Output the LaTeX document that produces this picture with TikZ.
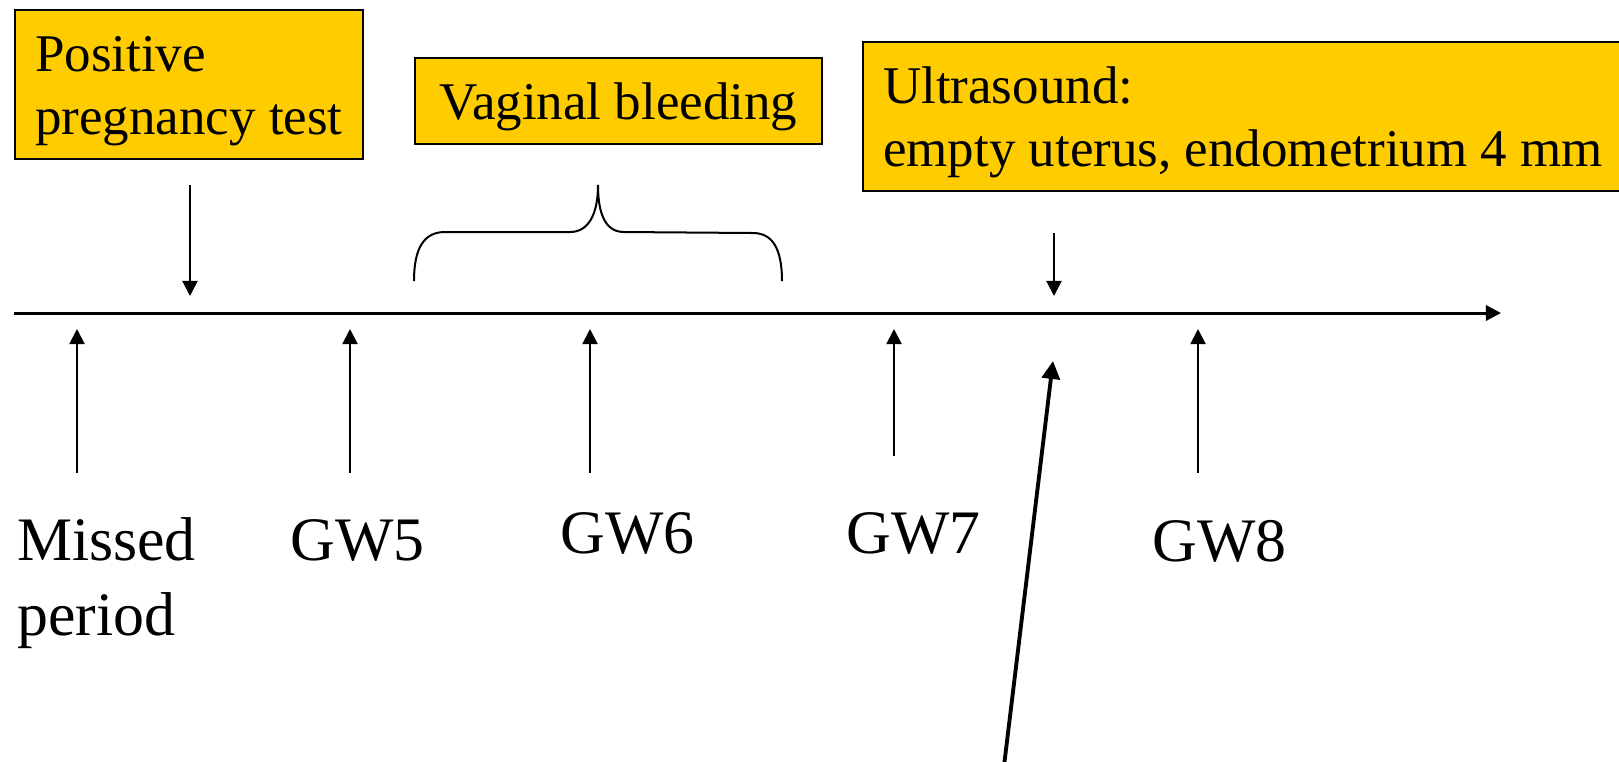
\documentclass[tikz,border=0pt]{standalone}
\usepackage{fontspec}
\setmainfont{Liberation Serif}
\usepackage{tikz}
\usetikzlibrary{arrows.meta, positioning, calc}
\definecolor{notegold}{HTML}{FFCC00}
\tikzset{
  % Yellow note boxes
  notebox/.style={
    rectangle, draw=black, fill=notegold, line width=0.6pt,
    anchor=north west, align=left, inner xsep=0.2cm, inner ysep=0pt,
    text height=#1, text depth=0.25cm,
    font=\fontsize{15.08}{17.92}\selectfont,
  },
  notebox/.default={1.24cm},
  % Week labels under the time line
  weeklabel/.style={
    anchor=base west, inner sep=0pt, align=left,
    font=\fontsize{17.6}{21.34}\selectfont,
  },
  % Arrows
  tickarrow/.style={-{Triangle[length=4.3pt, width=4.3pt]}, line width=0.57pt},
  axisarrow/.style={-{Triangle[length=4.3pt, width=4.3pt]}, line width=0.85pt},
  pointarrow/.style={-{Triangle[length=5.1pt, width=5.1pt]}, line width=1.1pt},
  bracepath/.style={line width=0.57pt},
}

\begin{document}
\begin{tikzpicture}
  \useasboundingbox (0,0) rectangle (16.19,-7.61);
  \clip (0,0) rectangle (16.19,-7.61);

  % Event boxes
  \node[notebox] (preg) at (0.14,-0.09) {Positive\\pregnancy test};
  \node[notebox=0.61cm, minimum width=4.07cm] (bleed) at (4.14,-0.57) {Vaginal bleeding};
  \node[notebox] (usound) at (8.62,-0.41) {Ultrasound:\\empty uterus, endometrium 4 mm};

  % Time line
  \coordinate (tstart) at (0.14,-3.13);
  \coordinate (tend) at (15.01,-3.13);
  \draw[axisarrow] (tstart) -- (tend);

  % Markers above the line
  \coordinate (pregtop) at (1.90,-1.85);
  \coordinate (pregtip) at (1.90,-2.96);
  \draw[tickarrow] (pregtop) -- (pregtip);
  \coordinate (ustop) at (10.54,-2.33);
  \coordinate (ustip) at (10.54,-2.96);
  \draw[tickarrow] (ustop) -- (ustip);

  % Bleeding span
  \draw[bracepath] (4.14,-2.81) .. controls (4.14,-2.48) and (4.24,-2.32) .. (4.45,-2.32)
    -- (5.70,-2.32) .. controls (5.88,-2.32) and (5.98,-2.15) .. (5.98,-1.85)
    .. controls (5.98,-2.15) and (6.06,-2.32) .. (6.24,-2.32)
    -- (7.53,-2.33) .. controls (7.72,-2.33) and (7.82,-2.48) .. (7.82,-2.81);

  % Week markers below the line
  \coordinate (mpfoot) at (0.77,-4.73);
  \coordinate (mptip) at (0.77,-3.29);
  \draw[tickarrow] (mpfoot) -- (mptip);
  \coordinate (gw5foot) at (3.50,-4.73);
  \coordinate (gw5tip) at (3.50,-3.29);
  \draw[tickarrow] (gw5foot) -- (gw5tip);
  \coordinate (gw6foot) at (5.90,-4.73);
  \coordinate (gw6tip) at (5.90,-3.29);
  \draw[tickarrow] (gw6foot) -- (gw6tip);
  \coordinate (gw7foot) at (8.94,-4.56);
  \coordinate (gw7tip) at (8.94,-3.29);
  \draw[tickarrow] (gw7foot) -- (gw7tip);
  \coordinate (gw8foot) at (11.98,-4.73);
  \coordinate (gw8tip) at (11.98,-3.29);
  \draw[tickarrow] (gw8foot) -- (gw8tip);

  % Week labels
  \node[weeklabel] (missed) at (0.165,-6.35) {Missed\\period};
  \node[weeklabel] (gw5) at (2.90,-5.60) {GW5};
  \node[weeklabel] (gw6) at (5.60,-5.53) {GW6};
  \node[weeklabel] (gw7) at (8.46,-5.53) {GW7};
  \node[weeklabel] (gw8) at (11.52,-5.61) {GW8};

  % Pointer from below
  \coordinate (ptfoot) at (10.04,-7.66);
  \coordinate (pttip) at (10.53,-3.61);
  \draw[pointarrow] (ptfoot) -- (pttip);
\end{tikzpicture}
\end{document}
